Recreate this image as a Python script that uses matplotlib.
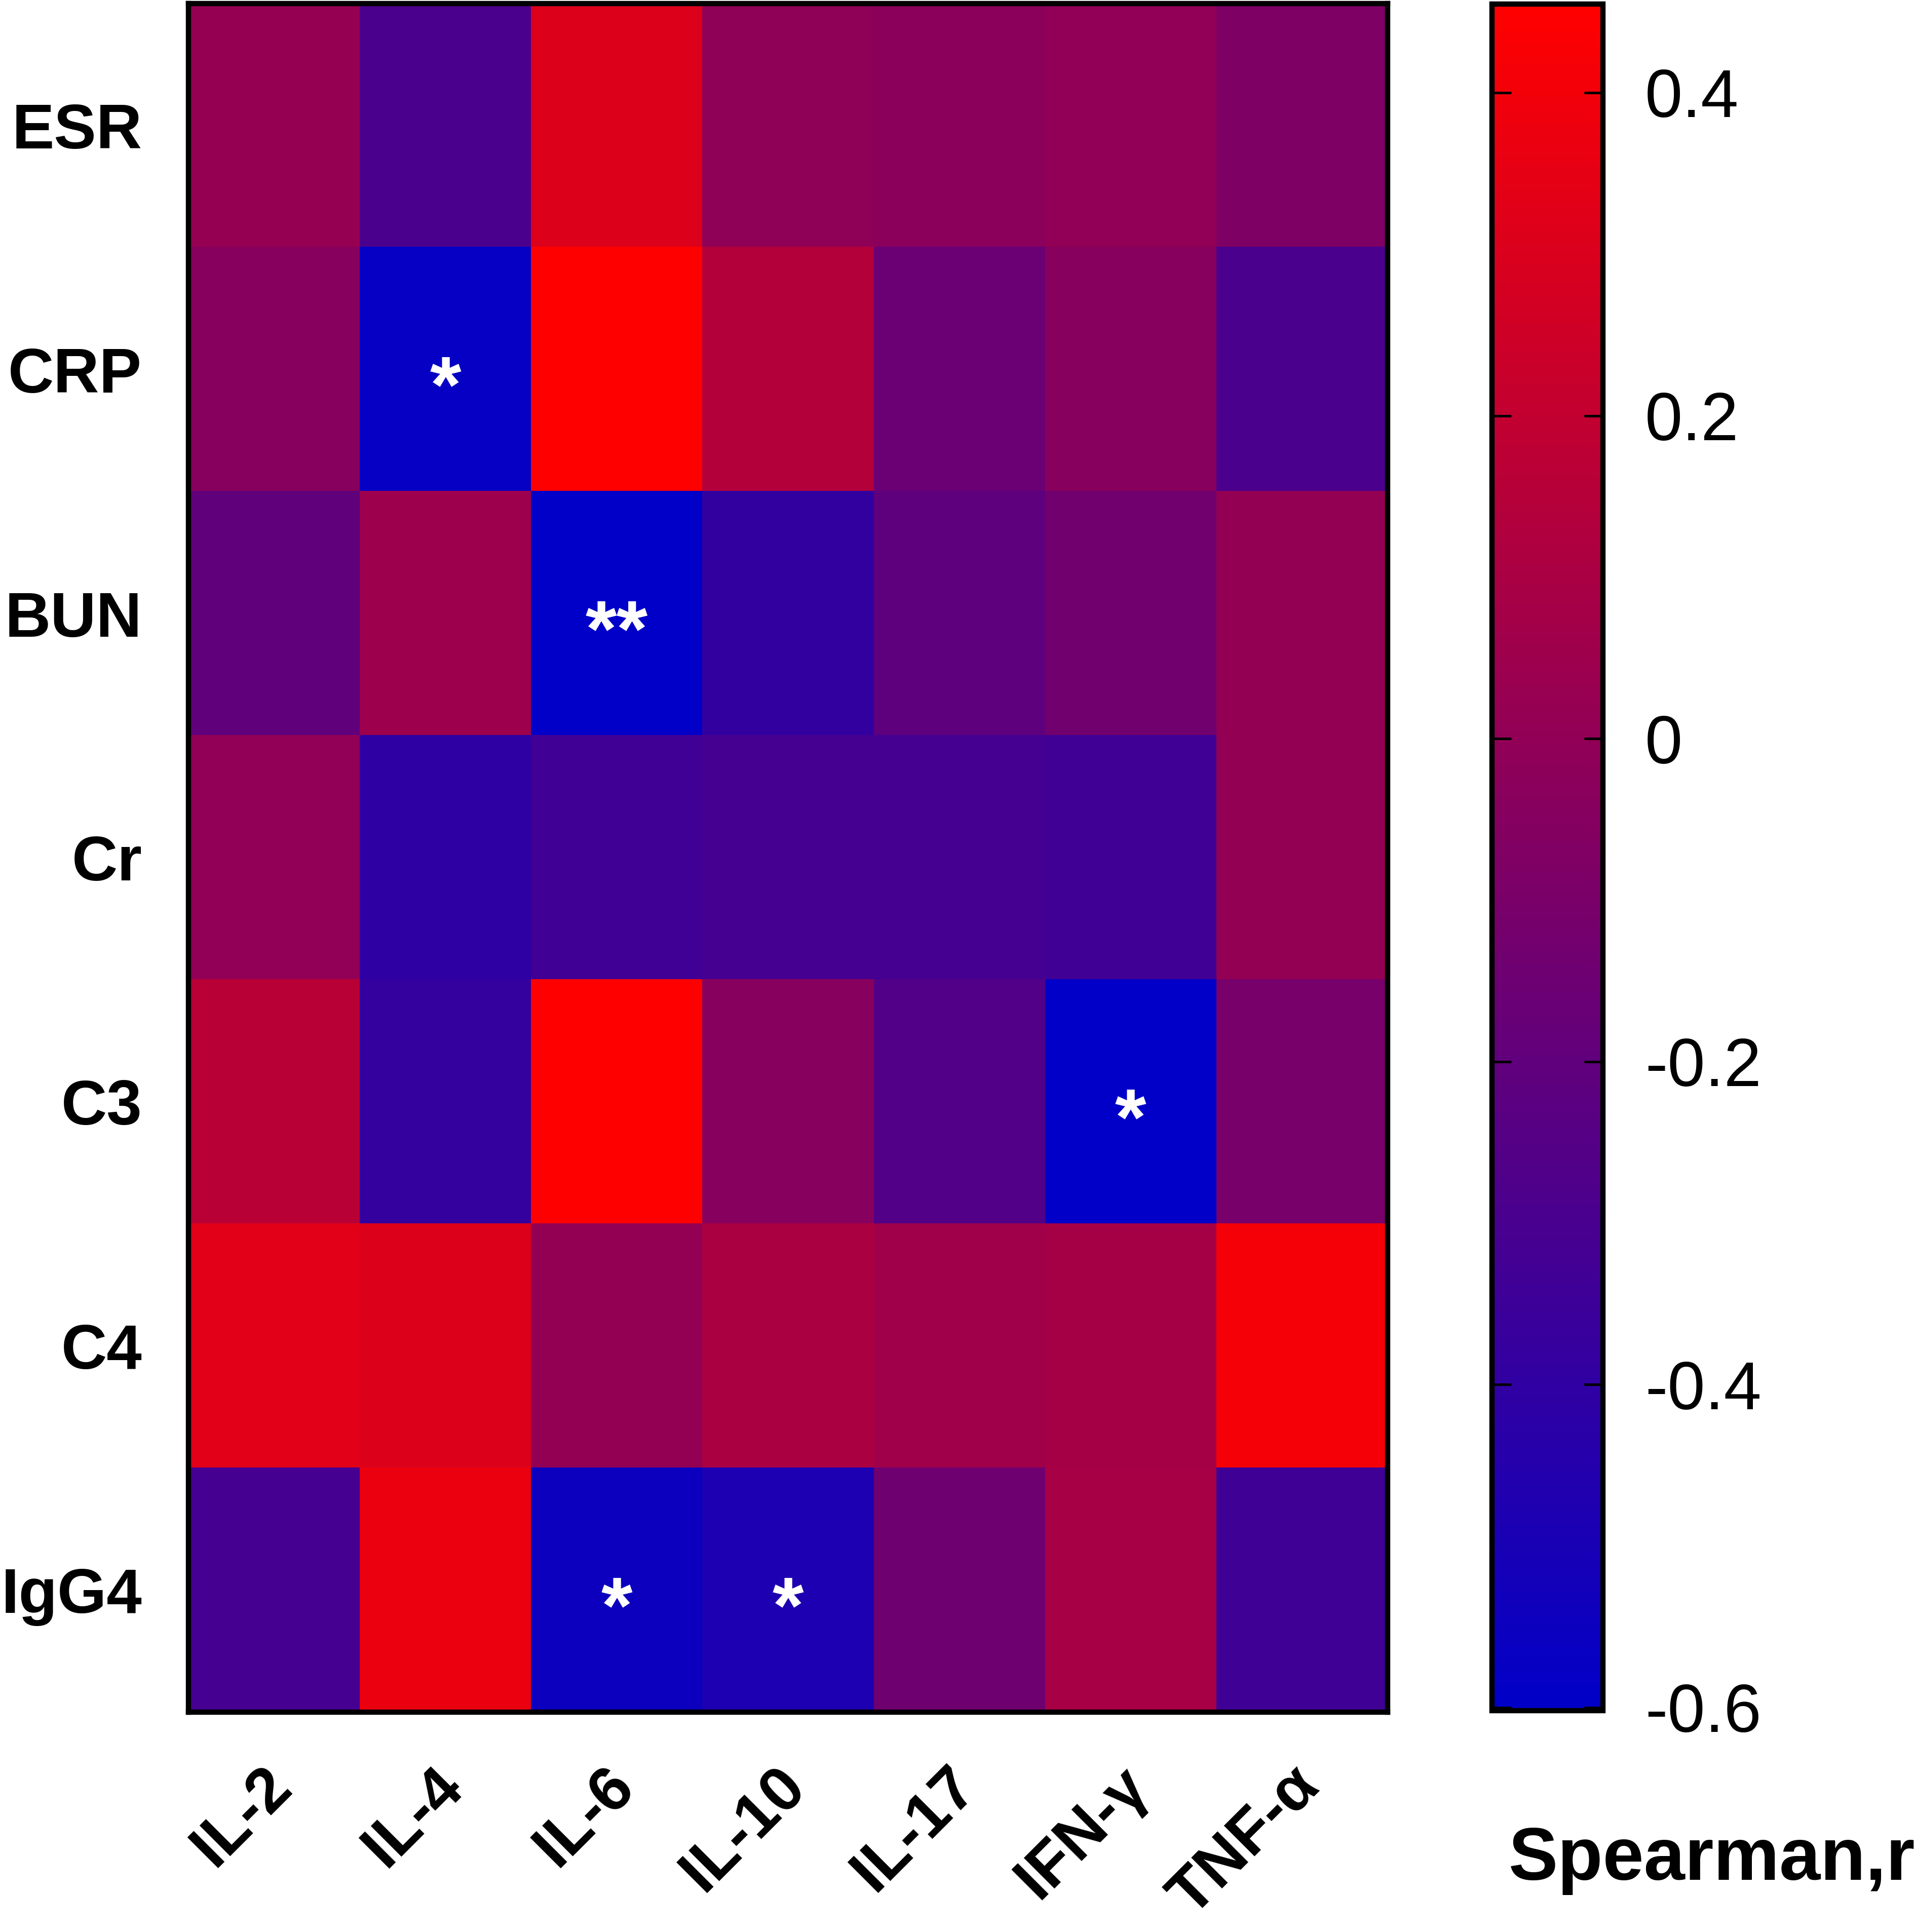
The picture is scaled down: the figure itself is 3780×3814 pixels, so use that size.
# heatmap of spearman r between lab markers and cytokines

import numpy as np
from matplotlib import pyplot as plt
from matplotlib.colors import LinearSegmentedColormap
from matplotlib.transforms import ScaledTranslation

plt.rcParams['font.family'] = ['Liberation Sans', 'DejaVu Sans']
plt.rcParams['axes.unicode_minus'] = False

# rows / columns
markers = ['ESR', 'CRP', 'BUN', 'Cr', 'C3', 'C4', 'IgG4']
cytokines = ['IL-2', 'IL-4', 'IL-6', 'IL-10', 'IL-17', 'IFN-γ', 'TNF-α']

# spearman r
esr = [0.02, -0.29, 0.31, -0.01, -0.03, 0.00, -0.08]
crp = [-0.04, -0.58, 0.46, 0.14, -0.16, -0.04, -0.29]
bun = [-0.20, 0.05, -0.60, -0.39, -0.21, -0.13, 0.01]
cr = [0.00, -0.41, -0.33, -0.31, -0.31, -0.33, 0.01]
c3 = [0.16, -0.38, 0.46, -0.04, -0.26, -0.60, -0.11]
c4 = [0.33, 0.31, 0.01, 0.10, 0.06, 0.08, 0.41]
igg4 = [-0.31, 0.37, -0.55, -0.48, -0.14, 0.09, -0.34]

# significance marks (row, col, text)
stars = [('CRP', 'IL-4', '*'), ('BUN', 'IL-6', '**'), ('C3', 'IFN-γ', '*'),
         ('IgG4', 'IL-6', '*'), ('IgG4', 'IL-10', '*')]

cbar_ticks = [0.4, 0.2, 0, -0.2, -0.4, -0.6]
cbar_labels = ['0.4', '0.2', '0', '-0.2', '-0.4', '-0.6']


def draw():
    r = np.array([esr, crp, bun, cr, c3, c4, igg4])
    cmap = LinearSegmentedColormap.from_list('bluered', ['#0000c8', '#ff0000'])

    fig = plt.figure(figsize=(12.6, 3814 / 300), dpi=300)
    ax = fig.add_axes([0.0984, 0.1138, 0.6262, 0.8844])
    cax = fig.add_axes([0.779, 0.1145, 0.058, 0.8835])

    im = ax.imshow(r, cmap=cmap, vmin=-0.602, vmax=0.455, aspect='auto',
                   interpolation='nearest')

    ax.set_xticks(range(len(cytokines)))
    ax.set_xticklabels(cytokines, rotation=45, ha='right', va='top',
                       rotation_mode='anchor', fontsize=30, fontweight='bold')
    ax.set_yticks(range(len(markers)))
    ax.set_yticklabels(markers, fontsize=30, fontweight='bold')
    ax.tick_params(length=0)
    ax.tick_params(axis='x', pad=26)
    ax.tick_params(axis='y', pad=22)
    # nudge x labels a little left and up like the original
    shift = ScaledTranslation(-6 / 72, 5 / 72, fig.dpi_scale_trans)
    for lab in ax.get_xticklabels():
        lab.set_transform(lab.get_transform() + shift)
    for s in ax.spines.values():
        s.set_linewidth(2.5)

    for row, col, txt in stars:
        ax.text(cytokines.index(col), markers.index(row) + 0.09, txt,
                color='white', fontsize=38, fontweight='bold',
                ha='center', va='center')

    cb = fig.colorbar(im, cax=cax)
    cb.set_ticks(cbar_ticks)
    cb.set_ticklabels(cbar_labels)
    cax.tick_params(direction='in', length=9, width=1.2, left=True, right=True,
                    labelsize=32, pad=20)
    cb.outline.set_linewidth(2.5)

    fig.text(0.894, 0.037, 'Spearman,r', fontsize=35, fontweight='bold',
             ha='center', va='center')

    fig.savefig('out.png', dpi=300)


if __name__ == "__main__":
    draw()
